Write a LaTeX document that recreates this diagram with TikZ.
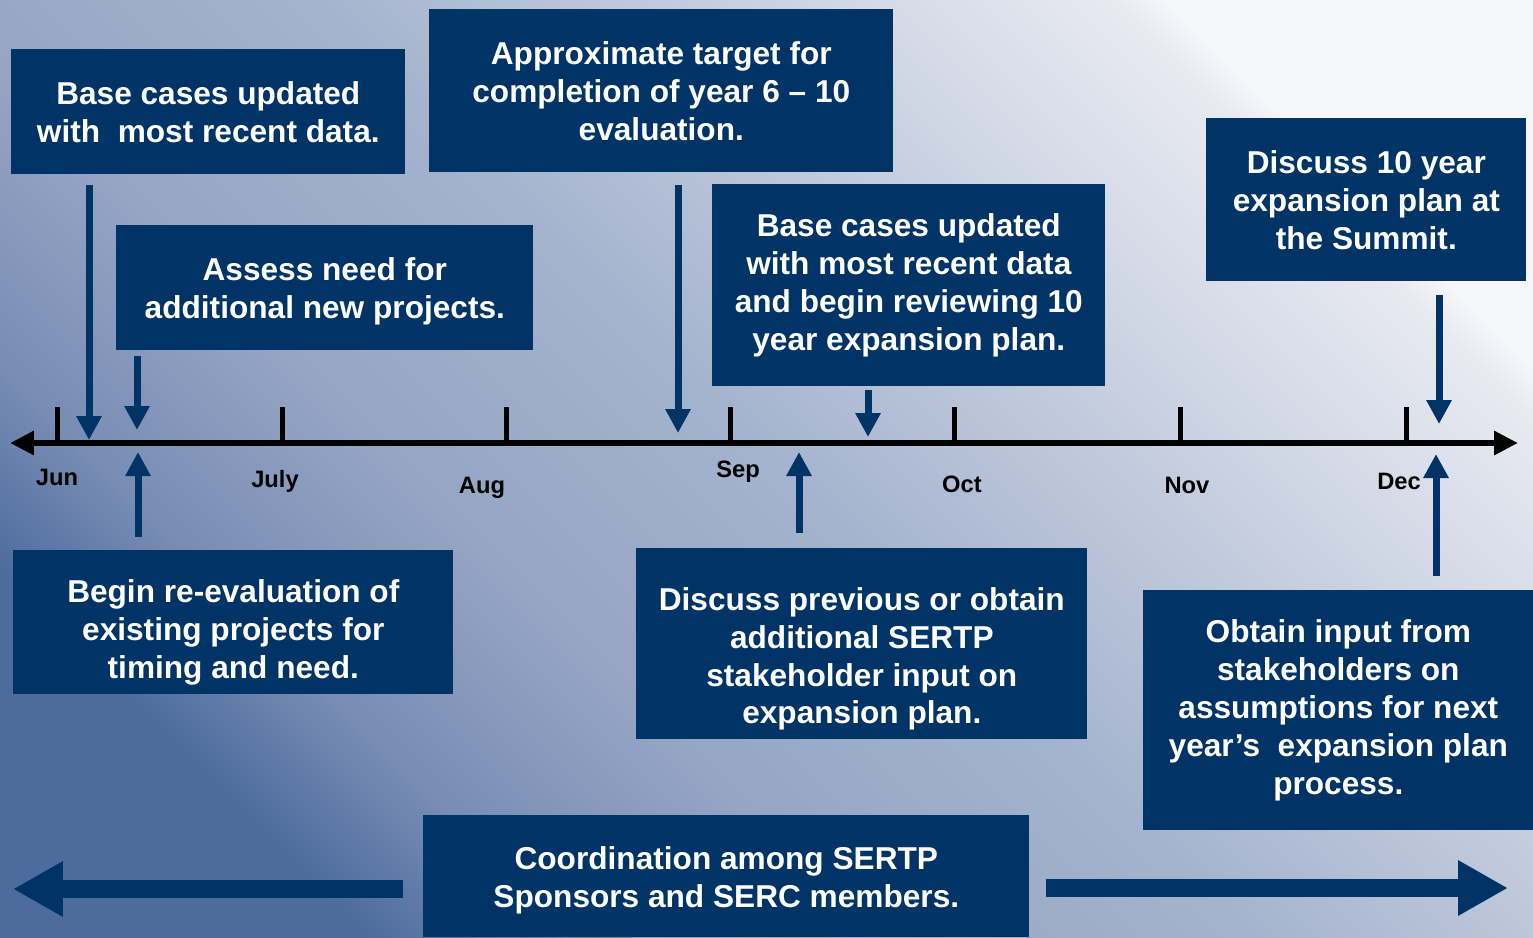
\documentclass[tikz,border=0pt]{standalone}
\usepackage{fontspec}
\setmainfont{Liberation Sans}
\usepackage{tikz}
\usetikzlibrary{positioning,calc,arrows.meta}
\definecolor{boxblue}{RGB}{0,51,102}
\definecolor{bgA}{RGB}{76,108,158}
\definecolor{bgB}{RGB}{120,140,180}
\definecolor{bgC}{RGB}{150,165,196}
\definecolor{bgD}{RGB}{163,178,205}
\definecolor{bgE}{RGB}{232,234,241}
\definecolor{bgF}{RGB}{246,247,250}
\pgfdeclareverticalshading{bgshade}{100bp}{color(0bp)=(bgA); color(25bp)=(bgA);
  color(30.8bp)=(bgB); color(39.5bp)=(bgC); color(50bp)=(bgD); color(73.5bp)=(bgE);
  color(75bp)=(bgF); color(100bp)=(bgF)}
\newcommand{\lowline}[1]{\rule{0pt}{#1}}

\begin{document}
\begin{tikzpicture}[x=0.02cm, y=-0.02cm,
  box/.style={fill=boxblue, text=white, anchor=north west, align=center, inner sep=0pt,
              font=\bfseries\fontsize{18}{21.6}\selectfont},
  mon/.style={font=\bfseries\fontsize{13.5}{15}\selectfont, text=black},
  arr/.style={boxblue, line width=0.14cm, -{Triangle[width=0.48cm, length=0.48cm]}},
  bigarr/.style={boxblue, line width=0.36cm, -{Triangle[width=1.04cm, length=1.0cm]}},
  tline/.style={line width=0.12cm, {Triangle[width=0.46cm, length=0.48cm]}-{Triangle[width=0.46cm, length=0.48cm]}},
  tick/.style={line width=0.1cm}
]
  % background
  \shade[shading=bgshade, shading angle=-45] (0,0) rectangle (1533,937);
  \useasboundingbox (0,0) rectangle (1533,937);

  % timeline
  \coordinate (tlL) at (10,443);
  \coordinate (tlR) at (1518,443);
  \draw[tline] (tlL) -- (tlR);
  \foreach \x/\lx/\ly/\m in {57/57/477/Jun, 282/275/481/July, 506/482/488/Aug, 730/738/472/Sep,
                             954/962/484/Oct, 1180/1187/485/Nov, 1406/1399/481/Dec}{
    \draw[tick] (\x,407) -- (\x,443);
    \node[mon] (m\m) at (\lx,\ly) {\m};
  }

  % boxes above the line
  \node[box, minimum width=7.88cm, minimum height=2.5cm] (base1) at (11,49)
    {Base cases updated\\with~~most recent data.};
  \node[box, minimum width=9.28cm, minimum height=3.26cm] (target) at (429,9)
    {Approximate target for\\completion of year 6 -- 10\\evaluation.};
  \node[box, minimum width=8.34cm, minimum height=2.5cm] (assess) at (116,225)
    {\lowline{0.58cm}Assess need for\\additional new projects.};
  \node[box, minimum width=7.86cm, minimum height=4.04cm] (base2) at (712,184)
    {Base cases updated\\with most recent data\\and begin reviewing 10\\year expansion plan.};
  \node[box, minimum width=6.4cm, minimum height=3.26cm] (summit) at (1206,118)
    {Discuss 10 year\\expansion plan at\\the Summit.};

  % boxes below the line
  \node[box, minimum width=8.8cm, minimum height=2.88cm] (reeval) at (13,550)
    {\lowline{0.86cm}Begin re-evaluation of\\existing projects for\\timing and need.};
  \node[box, minimum width=9.02cm, minimum height=3.82cm] (discuss) at (636,548)
    {\lowline{1.06cm}Discuss previous or obtain\\additional SERTP\\stakeholder input on\\expansion plan.};
  \node[box, minimum width=7.8cm, minimum height=4.8cm] (obtain) at (1143,590)
    {Obtain input from\\stakeholders on\\assumptions for next\\year’s~~expansion plan\\process.};
  \node[box, minimum width=12.12cm, minimum height=2.44cm] (coord) at (423,815)
    {\lowline{0.62cm}Coordination among SERTP\\Sponsors and SERC members.};

  % arrow tips on the timeline
  \coordinate (a1) at (89,440);
  \coordinate (a2) at (137,430);
  \coordinate (a3) at (138,452);
  \coordinate (a4) at (678,433);
  \coordinate (a5) at (868,437);
  \coordinate (a6) at (799,452);
  \coordinate (a7) at (1439,424);
  \coordinate (a8) at (1436,454);
  \draw[arr, shorten <=0.2cm]  (base1.south -| a1) -- (a1);
  \draw[arr, shorten <=0.1cm]  (assess.south -| a2) -- (a2);
  \draw[arr, shorten <=0.26cm] (reeval.north -| a3) -- (a3);
  \draw[arr, shorten <=0.24cm] (target.south -| a4) -- (a4);
  \draw[arr, shorten <=0.06cm] (base2.south -| a5) -- (a5);
  \draw[arr, shorten <=0.3cm]  (discuss.north -| a6) -- (a6);
  \draw[arr, shorten <=0.26cm] (summit.south -| a7) -- (a7);
  \draw[arr, shorten <=0.28cm] (obtain.north -| a8) -- (a8);

  % coordination arrows
  \coordinate (cl) at (13,889);
  \coordinate (cr) at (1508,888);
  \draw[bigarr, shorten <=0.4cm] (coord.west |- cl) -- (cl);
  \draw[bigarr, shorten <=0.32cm] (coord.east |- cr) -- (cr);
\end{tikzpicture}
\end{document}
